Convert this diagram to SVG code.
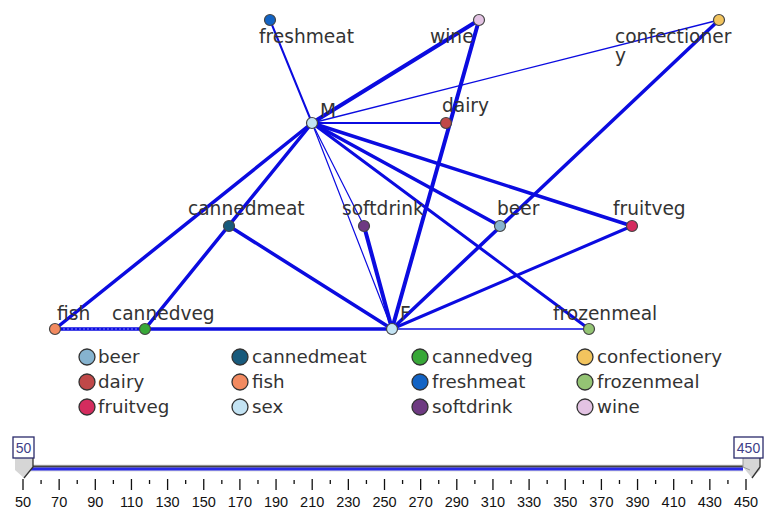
<svg xmlns="http://www.w3.org/2000/svg" width="765" height="510" viewBox="0 0 765 510">
<style>
.e{stroke:#0b0be0;fill:none;stroke-linecap:round}
.n{stroke:#444;stroke-width:1.2}
.lb{font-family:"DejaVu Sans",sans-serif;font-size:18.6px;fill:#333}
.lg{font-family:"DejaVu Sans",sans-serif;font-size:18.3px;fill:#333}
.lc{stroke:#333;stroke-width:1.3}
.tk{font-family:"Liberation Sans",sans-serif;font-size:14.5px;fill:#111;text-anchor:middle}
.tick{stroke:#111;stroke-width:1.3}
.bx{fill:#fff;stroke:#2a2a6a;stroke-width:1.3}
.bt{font-family:"Liberation Sans",sans-serif;font-size:14px;fill:#404088;text-anchor:middle}
</style>
<rect width="765" height="510" fill="#fff"/>
<g id="connectors">
<line class="e" x1="312" y1="123" x2="270" y2="20" stroke-width="2"/>
<line class="e" x1="312" y1="123" x2="479" y2="20" stroke-width="4"/>
<line class="e" x1="312" y1="123" x2="719" y2="20" stroke-width="1.3"/>
<line class="e" x1="312" y1="123" x2="446" y2="123" stroke-width="2"/>
<line class="e" x1="312" y1="123" x2="55" y2="329" stroke-width="3.5"/>
<line class="e" x1="312" y1="123" x2="145" y2="329" stroke-width="3.5"/>
<line class="e" x1="312" y1="123" x2="364" y2="226" stroke-width="1.2"/>
<line class="e" x1="312" y1="123" x2="392" y2="329" stroke-width="1.2"/>
<line class="e" x1="312" y1="123" x2="500" y2="226" stroke-width="3.5"/>
<line class="e" x1="312" y1="123" x2="589" y2="329" stroke-width="3"/>
<line class="e" x1="312" y1="123" x2="632" y2="226" stroke-width="3.5"/>
<line class="e" x1="392" y1="329" x2="479" y2="20" stroke-width="4"/>
<line class="e" x1="392" y1="329" x2="719" y2="20" stroke-width="3.5"/>
<line class="e" x1="392" y1="329" x2="632" y2="226" stroke-width="3"/>
<line class="e" x1="392" y1="329" x2="364" y2="226" stroke-width="4"/>
<line class="e" x1="392" y1="329" x2="229" y2="226" stroke-width="3.5"/>
<line class="e" x1="392" y1="329" x2="55" y2="329" stroke-width="3.5"/>
<line class="e" x1="392" y1="329" x2="589" y2="329" stroke-width="1.5"/>
<line x1="55" y1="329" x2="145" y2="329" stroke="#8888ff" stroke-width="1" stroke-dasharray="2 2"/>
</g>
<g id="n-freshmeat"><circle class="n" cx="270" cy="20" r="5.5" fill="#1263c4"/><text class="lb" x="259" y="43">freshmeat</text></g>
<g id="n-wine"><circle class="n" cx="479" cy="20" r="5.5" fill="#e3c3e3"/><text class="lb" x="430" y="43">wine</text></g>
<g id="n-confectionery"><circle class="n" cx="719" cy="20" r="5.5" fill="#f2c45e"/><text class="lb" x="615" y="43">confectioner</text><text class="lb" x="615" y="62">y</text></g>
<g id="n-M"><circle class="n" cx="312" cy="123" r="5.5" fill="#c3e3f3"/><text class="lb" x="320" y="117">M</text></g>
<g id="n-dairy"><circle class="n" cx="446" cy="123" r="5.5" fill="#c04848"/><text class="lb" x="442" y="112">dairy</text></g>
<g id="n-cannedmeat"><circle class="n" cx="229" cy="226" r="5.5" fill="#175a7c"/><text class="lb" x="188" y="215">cannedmeat</text></g>
<g id="n-softdrink"><circle class="n" cx="364" cy="226" r="5.5" fill="#6e3a82"/><text class="lb" x="342" y="215">softdrink</text></g>
<g id="n-beer"><circle class="n" cx="500" cy="226" r="5.5" fill="#86b3cf"/><text class="lb" x="497" y="215">beer</text></g>
<g id="n-fruitveg"><circle class="n" cx="632" cy="226" r="5.5" fill="#d42c5e"/><text class="lb" x="613" y="215">fruitveg</text></g>
<g id="n-fish"><circle class="n" cx="55" cy="329" r="5.5" fill="#f28a60"/><text class="lb" x="57" y="320">fish</text></g>
<g id="n-cannedveg"><circle class="n" cx="145" cy="329" r="5.5" fill="#38a838"/><text class="lb" x="112" y="320">cannedveg</text></g>
<g id="n-F"><circle class="n" cx="392" cy="329" r="5.5" fill="#c3e3f3"/><text class="lb" x="400" y="320">F</text></g>
<g id="n-frozenmeal"><circle class="n" cx="589" cy="329" r="5.5" fill="#94c474"/><text class="lb" x="553" y="320">frozenmeal</text></g>
<g id="legend">
<circle class="lc" cx="87" cy="357" r="8" fill="#86b3cf"/><text class="lg" x="98" y="363">beer</text>
<circle class="lc" cx="87" cy="382" r="8" fill="#c04848"/><text class="lg" x="98" y="388">dairy</text>
<circle class="lc" cx="87" cy="407" r="8" fill="#d42c5e"/><text class="lg" x="98" y="413">fruitveg</text>
<circle class="lc" cx="240" cy="357" r="8" fill="#175a7c"/><text class="lg" x="252" y="363">cannedmeat</text>
<circle class="lc" cx="240" cy="382" r="8" fill="#f28a60"/><text class="lg" x="252" y="388">fish</text>
<circle class="lc" cx="240" cy="407" r="8" fill="#c3e3f3"/><text class="lg" x="252" y="413">sex</text>
<circle class="lc" cx="420" cy="357" r="8" fill="#38a838"/><text class="lg" x="432" y="363">cannedveg</text>
<circle class="lc" cx="420" cy="382" r="8" fill="#1263c4"/><text class="lg" x="432" y="388">freshmeat</text>
<circle class="lc" cx="420" cy="407" r="8" fill="#6e3a82"/><text class="lg" x="432" y="413">softdrink</text>
<circle class="lc" cx="585" cy="357" r="8" fill="#f2c45e"/><text class="lg" x="597" y="363">confectionery</text>
<circle class="lc" cx="585" cy="382" r="8" fill="#94c474"/><text class="lg" x="597" y="388">frozenmeal</text>
<circle class="lc" cx="585" cy="407" r="8" fill="#e3c3e3"/><text class="lg" x="597" y="413">wine</text>
</g>
<g id="slider">
<rect x="30" y="464.5" width="713" height="7" fill="#ddd"/>
<rect x="30" y="465.5" width="713" height="2" fill="#444"/>
<rect x="30" y="467.5" width="713" height="3" fill="#2828e8"/>
<polygon points="15,458 33,458 33,467 24,478 15,470" fill="#d6d6d6"/>
<polyline points="33,458 33,467 24,478" fill="none" stroke="#333" stroke-width="1.3"/>
<polygon points="743,458 760,458 760,470 752,478 743,467" fill="#d6d6d6"/>
<polyline points="743,458 743,467 750,470" fill="none" stroke="#999" stroke-width="1"/>
<polyline points="760,458 760,467 752,478" fill="none" stroke="#333" stroke-width="1.3"/>
<rect class="bx" x="13" y="437" width="21" height="21"/><text class="bt" x="23.5" y="452.5">50</text>
<rect class="bx" x="734" y="437" width="29" height="21"/><text class="bt" x="748.5" y="452.5">450</text>
<g id="ticks">
<path class="tick" d="M23,479V490M59.15,479V490M95.3,479V490M131.45,479V490M167.6,479V490M203.75,479V490M239.9,479V490M276.05,479V490M312.2,479V490M348.35,479V490M384.5,479V490M420.65,479V490M456.8,479V490M492.95,479V490M529.1,479V490M565.25,479V490M601.4,479V490M637.55,479V490M673.7,479V490M709.85,479V490M746,479V490"/>
<path class="tick" d="M41.08,480V484M77.23,480V484M113.38,480V484M149.53,480V484M185.68,480V484M221.83,480V484M257.98,480V484M294.13,480V484M330.28,480V484M366.43,480V484M402.58,480V484M438.73,480V484M474.88,480V484M511.03,480V484M547.18,480V484M583.33,480V484M619.48,480V484M655.63,480V484M691.78,480V484M727.93,480V484"/>
</g>
<g id="ticklabels">
<text class="tk" x="23" y="507">50</text><text class="tk" x="59.15" y="507">70</text><text class="tk" x="95.3" y="507">90</text><text class="tk" x="131.45" y="507">110</text><text class="tk" x="167.6" y="507">130</text><text class="tk" x="203.75" y="507">150</text><text class="tk" x="239.9" y="507">170</text><text class="tk" x="276.05" y="507">190</text><text class="tk" x="312.2" y="507">210</text><text class="tk" x="348.35" y="507">230</text><text class="tk" x="384.5" y="507">250</text><text class="tk" x="420.65" y="507">270</text><text class="tk" x="456.8" y="507">290</text><text class="tk" x="492.95" y="507">310</text><text class="tk" x="529.1" y="507">330</text><text class="tk" x="565.25" y="507">350</text><text class="tk" x="601.4" y="507">370</text><text class="tk" x="637.55" y="507">390</text><text class="tk" x="673.7" y="507">410</text><text class="tk" x="709.85" y="507">430</text><text class="tk" x="746" y="507">450</text>
</g>
</g>
</svg>
